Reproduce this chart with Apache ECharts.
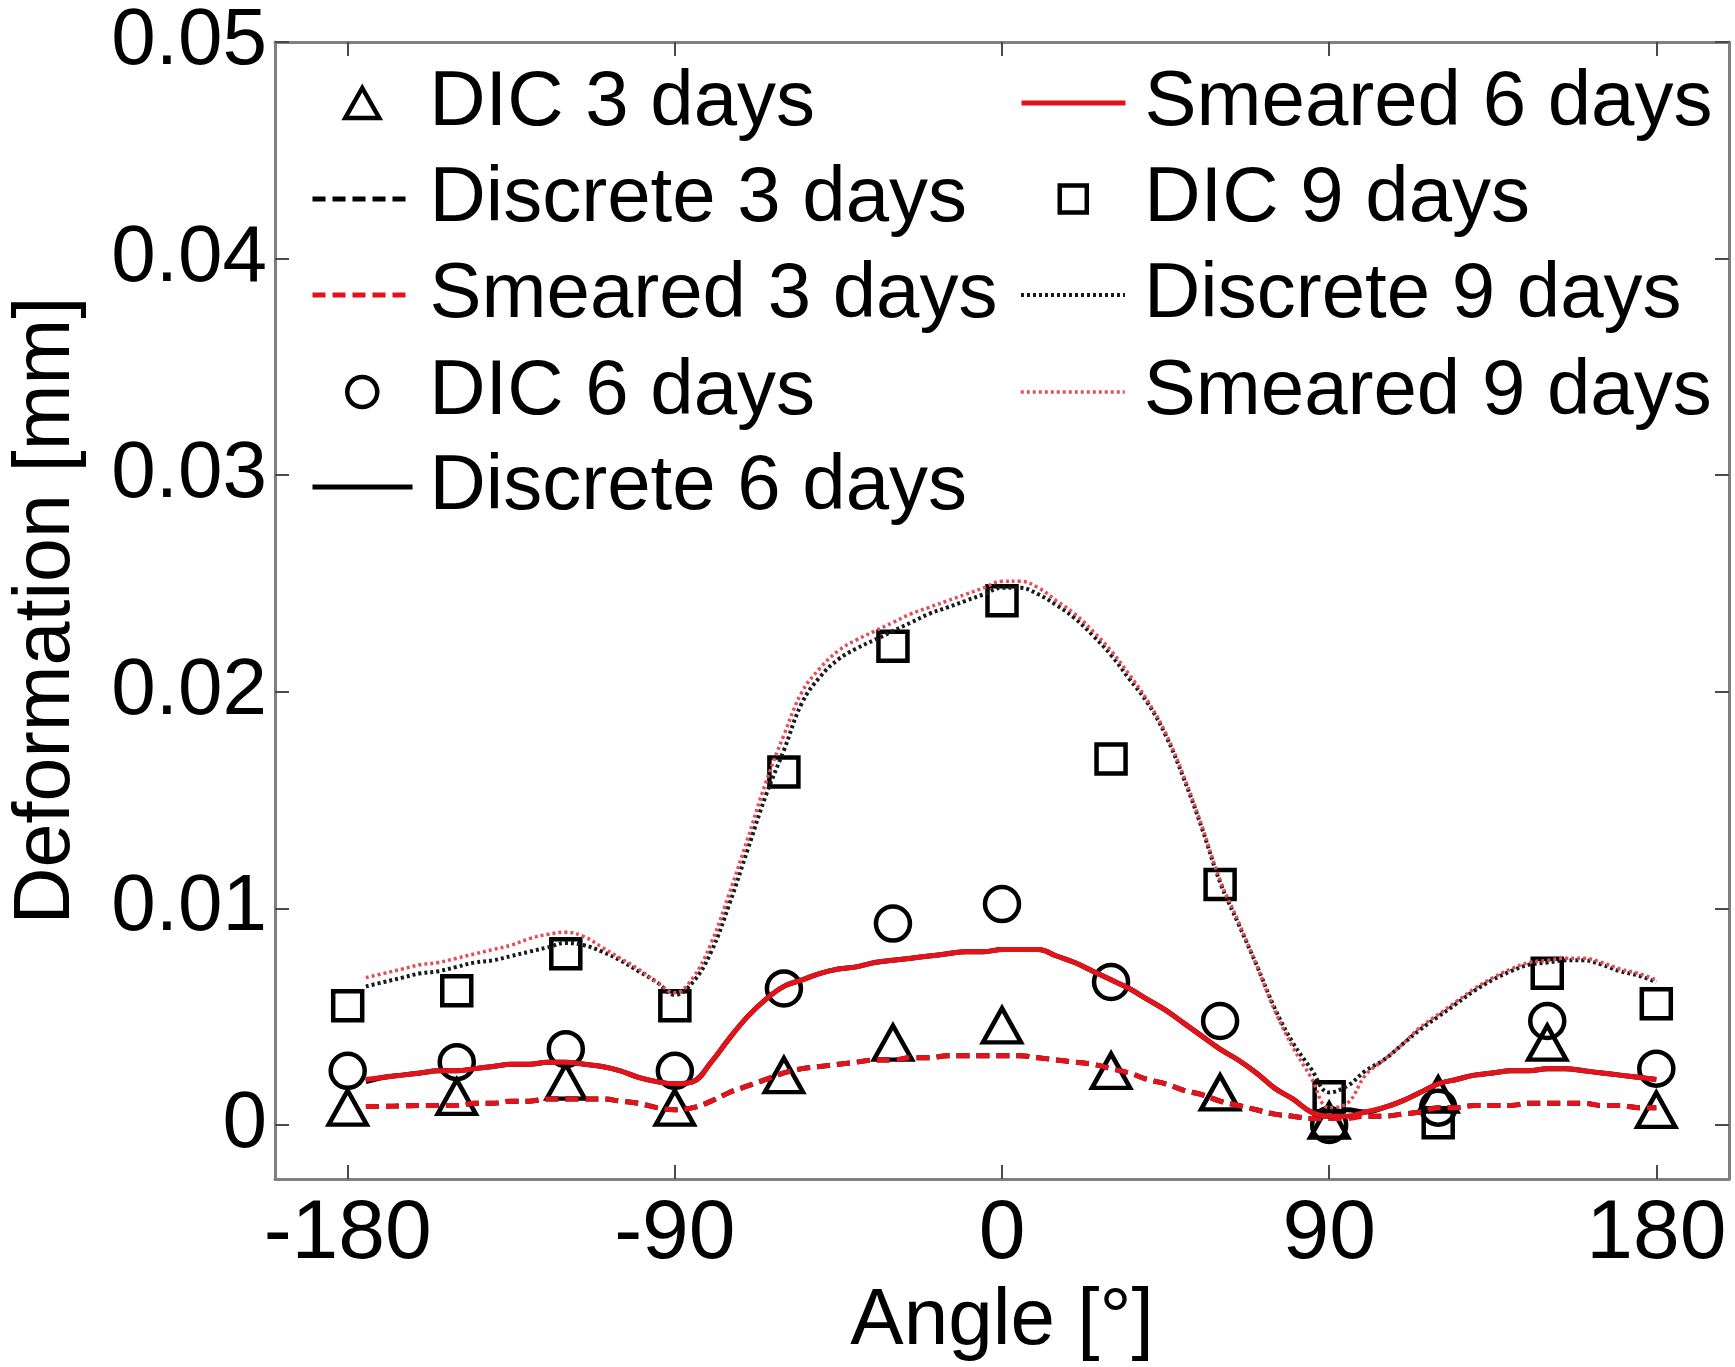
<!DOCTYPE html>
<html><head><meta charset="utf-8">
<script src="https://cdn.jsdelivr.net/npm/echarts@6/dist/echarts.min.js"></script>
<style>html,body{margin:0;padding:0;background:#fff}#c{width:1735px;height:1367px}</style>
</head><body><div id="c"></div>
<script>
// ---------- DATA ----------
const dicAngles = [-180,-150,-120,-90,-60,-30,0,30,60,90,120,150,180];
const dic3 = [0.0008,0.0013,0.0020,0.0008,0.0023,0.0038,0.0046,0.0025,0.0015,0.0002,0.0014,0.0038,0.0007];
const dic6 = [0.0025,0.0029,0.0035,0.0025,0.0063,0.0093,0.0102,0.0066,0.0048,0.0000,0.0008,0.0048,0.0026];
const dic9 = [0.0055,0.0062,0.0079,0.0055,0.0163,0.0221,0.0242,0.0169,0.0111,0.0013,0.0001,0.0070,0.0056];

const simAngles = [-175,-170,-165,-160,-155,-150,-145,-140,-135,-130,
  -125,-120,-115,-110,-105,-100,-95,-90,-85,-80,
  -75,-70,-65,-60,-55,-50,-45,-40,-35,-30,
  -25,-20,-15,-10,-5,0,5,10,15,20,
  25,30,35,40,45,50,55,60,65,70,
  75,80,85,90,95,100,105,110,115,120,
  125,130,135,140,145,150,155,160,165,170,
  175,180];

const discrete3 = [0.00085,0.00086,0.00088,0.0009,0.0009,0.0009,0.0010,0.0010,0.0011,0.0011,
  0.0012,0.0012,0.0012,0.0012,0.0011,0.0010,0.0008,0.0007,0.0008,0.0011,
  0.0015,0.0018,0.0021,0.0024,0.0026,0.0027,0.0028,0.0029,0.0030,0.0030,
  0.0031,0.0031,0.0032,0.0032,0.0032,0.0032,0.0032,0.0031,0.0030,0.0029,
  0.0028,0.0026,0.0024,0.0021,0.0019,0.0016,0.0014,0.0011,0.0009,0.0007,
  0.0005,0.0004,0.0003,0.0003,0.0004,0.0004,0.0004,0.0005,0.0006,0.0008,
  0.0008,0.0009,0.0009,0.0009,0.0010,0.0010,0.0010,0.0010,0.0009,0.0009,
  0.0008,0.0008];
const smeared3 = [0.00085,0.00086,0.00088,0.0009,0.0009,0.0009,0.0010,0.0010,0.0011,0.0011,
  0.0012,0.0012,0.0012,0.0012,0.0011,0.0010,0.0008,0.0007,0.0008,0.0011,
  0.0015,0.0018,0.0021,0.0024,0.0026,0.0027,0.0028,0.0029,0.0030,0.0030,
  0.0031,0.0031,0.0032,0.0032,0.0032,0.0032,0.0032,0.0031,0.0030,0.0029,
  0.0028,0.0026,0.0024,0.0021,0.0019,0.0016,0.0014,0.0011,0.0009,0.0007,
  0.0005,0.0004,0.0003,0.0003,0.0003,0.0004,0.0004,0.0005,0.0006,0.0008,
  0.0008,0.0009,0.0009,0.0009,0.0010,0.0010,0.0010,0.0010,0.0009,0.0009,
  0.0008,0.0008];

const discrete6 = [0.0020,0.0022,0.0023,0.0024,0.0025,0.0025,0.0026,0.0027,0.0028,0.0028,
  0.0029,0.0029,0.0028,0.0027,0.0025,0.0022,0.0020,0.0019,0.0020,0.0029,
  0.0040,0.0050,0.0058,0.0064,0.0067,0.0070,0.0072,0.0073,0.0075,0.0076,
  0.0077,0.0078,0.0079,0.0080,0.0080,0.0081,0.0081,0.0081,0.0078,0.0075,
  0.0071,0.0067,0.0063,0.0058,0.0053,0.0047,0.0041,0.0035,0.0030,0.0024,
  0.0017,0.0012,0.0006,0.0004,0.0007,0.0006,0.0008,0.0011,0.0015,0.0019,
  0.0021,0.0023,0.0024,0.0025,0.0025,0.0026,0.0026,0.0025,0.0024,0.0023,
  0.0022,0.0021];
const smeared6 = [0.0021,0.0022,0.0023,0.0024,0.0025,0.0025,0.0026,0.0027,0.0028,0.0028,
  0.0029,0.0029,0.0028,0.0027,0.0025,0.0022,0.0020,0.0019,0.0020,0.0029,
  0.0040,0.0050,0.0058,0.0064,0.0067,0.0070,0.0072,0.0073,0.0075,0.0076,
  0.0077,0.0078,0.0079,0.0080,0.0080,0.0081,0.0081,0.0081,0.0078,0.0075,
  0.0071,0.0067,0.0063,0.0058,0.0053,0.0047,0.0041,0.0035,0.0030,0.0024,
  0.0017,0.0012,0.0006,0.0004,0.0004,0.0006,0.0008,0.0011,0.0015,0.0019,
  0.0021,0.0023,0.0024,0.0025,0.0025,0.0026,0.0026,0.0025,0.0024,0.0023,
  0.0022,0.0021];

const discrete9 = [0.0064,0.0066,0.0068,0.0070,0.0071,0.0073,0.0075,0.0076,0.0078,0.0080,
  0.0082,0.0084,0.0083,0.0080,0.0076,0.0071,0.0066,0.0060,0.0066,0.0080,
  0.0102,0.0127,0.0152,0.0173,0.0195,0.0207,0.0215,0.0220,0.0224,0.0228,
  0.0232,0.0236,0.0239,0.0242,0.0245,0.0248,0.0248,0.0245,0.0240,0.0234,
  0.0226,0.0217,0.0206,0.0195,0.0180,0.0160,0.0137,0.0112,0.0093,0.0074,
  0.0054,0.0038,0.0026,0.0015,0.0018,0.0025,0.0030,0.0037,0.0044,0.0050,
  0.0056,0.0062,0.0067,0.0071,0.0074,0.0075,0.0076,0.0076,0.0074,0.0071,
  0.0069,0.0066];
const smeared9 = [0.0068,0.0070,0.0072,0.0074,0.0075,0.0077,0.0079,0.0081,0.0083,0.0086,
  0.0088,0.0089,0.0087,0.0082,0.0077,0.0072,0.0066,0.0061,0.0068,0.0084,
  0.0107,0.0132,0.0158,0.0180,0.0200,0.0211,0.0219,0.0224,0.0228,0.0232,
  0.0236,0.0239,0.0242,0.0245,0.0248,0.0251,0.0251,0.0248,0.0242,0.0236,
  0.0228,0.0219,0.0208,0.0196,0.0181,0.0161,0.0138,0.0113,0.0094,0.0074,
  0.0053,0.0036,0.0022,0.0008,0.0010,0.0023,0.0030,0.0037,0.0045,0.0051,
  0.0057,0.0063,0.0068,0.0072,0.0075,0.0076,0.0077,0.0077,0.0075,0.0072,
  0.0070,0.0067];

const xTickValues = [-180,-90,0,90,180];
const yTickValues = [0,0.01,0.02,0.03,0.04,0.05];
const seriesNames = ['DIC 3 days','Discrete 3 days','Smeared 3 days','DIC 6 days','Discrete 6 days',
  'Smeared 6 days','DIC 9 days','Discrete 9 days','Smeared 9 days'];

// ---------- CHART ----------
const FONT = '"Liberation Sans", Arial, Helvetica, sans-serif';
const RED = '#e3131b';
const RED_DOT = '#e0505a';
const pairs = (xs, ys) => xs.map((x, i) => [x, ys[i]]);
const marker = {color: 'rgba(255,255,255,0)', borderColor: '#000', borderWidth: 4.5, opacity: 1};

const lineStyles = {
  1: {color: '#000', width: 5, type: [13, 7]},
  2: {color: RED, width: 5, type: [13, 7]},
  4: {color: '#000', width: 5, type: 'solid'},
  5: {color: RED, width: 5, type: 'solid'},
  7: {color: '#1a1a1a', width: 4, type: [3, 3]},
  8: {color: RED_DOT, width: 3.5, type: [3, 3]}
};

const series = [
  {name: seriesNames[0], type: 'scatter', symbol: 'triangle', symbolSize: [38, 34], itemStyle: marker, data: pairs(dicAngles, dic3)},
  {name: seriesNames[1], type: 'line', symbol: 'none', smooth: 0.4, itemStyle: {color: '#000'}, lineStyle: lineStyles[1], data: pairs(simAngles, discrete3)},
  {name: seriesNames[2], type: 'line', symbol: 'none', smooth: 0.4, itemStyle: {color: RED}, lineStyle: lineStyles[2], data: pairs(simAngles, smeared3)},
  {name: seriesNames[3], type: 'scatter', symbol: 'circle', symbolSize: 34, itemStyle: marker, data: pairs(dicAngles, dic6)},
  {name: seriesNames[4], type: 'line', symbol: 'none', smooth: 0.4, itemStyle: {color: '#000'}, lineStyle: lineStyles[4], data: pairs(simAngles, discrete6)},
  {name: seriesNames[5], type: 'line', symbol: 'none', smooth: 0.4, itemStyle: {color: RED}, lineStyle: lineStyles[5], data: pairs(simAngles, smeared6)},
  {name: seriesNames[6], type: 'scatter', symbol: 'rect', symbolSize: 29, itemStyle: marker, data: pairs(dicAngles, dic9)},
  {name: seriesNames[7], type: 'line', symbol: 'none', smooth: 0.4, itemStyle: {color: '#1a1a1a'}, lineStyle: lineStyles[7], data: pairs(simAngles, discrete9)},
  {name: seriesNames[8], type: 'line', symbol: 'none', smooth: 0.4, itemStyle: {color: RED_DOT}, lineStyle: lineStyles[8], data: pairs(simAngles, smeared9)}
];

// legend layout (positions only)
const colIconCenter = [360, 1071];
const colTextX = [427, 1142];
const rowY = [103, 199, 295, 392, 487];
const legendSlots = [
  {c: 0, r: 0, icon: 'triangle', w: 34, h: 30},
  {c: 0, r: 1, w: 100, h: 20},
  {c: 0, r: 2, w: 100, h: 20},
  {c: 0, r: 3, icon: 'circle', w: 30, h: 30},
  {c: 0, r: 4, w: 100, h: 20},
  {c: 1, r: 0, w: 104, h: 20},
  {c: 1, r: 1, icon: 'rect', w: 27, h: 27},
  {c: 1, r: 2, w: 104, h: 20},
  {c: 1, r: 3, w: 104, h: 20}
];
const LINE_H = 90;
const legends = legendSlots.map((s, i) => {
  const left = colIconCenter[s.c] - s.w / 2;
  const pad = colTextX[s.c] - left - s.w - 5;
  const item = {name: seriesNames[i]};
  const lg = {
    data: [item], left: left, top: rowY[s.r] - LINE_H / 2, padding: 0,
    orient: 'vertical', itemWidth: s.w, itemHeight: s.h, selectedMode: false,
    textStyle: {fontSize: 78, fontFamily: FONT, color: '#000', lineHeight: LINE_H, padding: [0, 0, 0, pad]}
  };
  if (s.icon) {
    item.icon = s.icon;
    item.itemStyle = {color: 'rgba(255,255,255,0)', borderColor: '#000', borderWidth: 4.5, opacity: 1};
    lg.itemStyle = {opacity: 1};
  } else {
    const ls = lineStyles[i];
    item.itemStyle = {opacity: 0};
    lg.itemStyle = {opacity: 0};
    lg.lineStyle = {color: ls.color, width: ls.width, type: ls.type, opacity: 1};
  }
  return lg;
});

const axisLineStyle = {show: true, onZero: false, lineStyle: {color: '#808080', width: 3}};
const tickStyle = {color: '#4a4a4a', width: 2};

const option = {
  animation: false,
  backgroundColor: '#fff',
  grid: {left: 273, right: 6, top: 42, bottom: 175, containLabel: false},
  legend: legends,
  xAxis: [
    {type: 'value', min: -200, max: 200, position: 'bottom',
     axisLine: axisLineStyle,
     axisTick: {show: true, inside: true, length: 14, customValues: xTickValues, lineStyle: tickStyle},
     axisLabel: {customValues: xTickValues, fontSize: 84, fontFamily: FONT, color: '#000', margin: 14},
     splitLine: {show: false},
     name: 'Angle [°]', nameLocation: 'middle', nameGap: 94,
     nameTextStyle: {fontSize: 80, fontFamily: FONT, color: '#000'}},
    {type: 'value', min: -200, max: 200, position: 'top',
     axisLine: axisLineStyle,
     axisTick: {show: true, inside: true, length: 14, customValues: xTickValues, lineStyle: tickStyle},
     axisLabel: {show: false}, splitLine: {show: false}}
  ],
  yAxis: [
    {type: 'value', min: -0.0025, max: 0.05, position: 'left',
     axisLine: axisLineStyle,
     axisTick: {show: true, inside: true, length: 14, customValues: yTickValues, lineStyle: tickStyle},
     axisLabel: {customValues: yTickValues, fontSize: 80, fontFamily: FONT, color: '#000', margin: 8,
       formatter: v => (v === 0 ? '0' : v.toFixed(2))},
     splitLine: {show: false},
     name: 'Deformation [mm]', nameLocation: 'middle', nameRotate: 90, nameGap: 188,
     nameTextStyle: {fontSize: 79, fontFamily: FONT, color: '#000'}},
    {type: 'value', min: -0.0025, max: 0.05, position: 'right',
     axisLine: axisLineStyle,
     axisTick: {show: true, inside: true, length: 14, customValues: yTickValues, lineStyle: tickStyle},
     axisLabel: {show: false}, splitLine: {show: false}}
  ],
  series: series
};

const chart = echarts.init(document.getElementById('c'), null, {renderer: 'canvas'});
chart.setOption(option);
</script>
</body></html>
